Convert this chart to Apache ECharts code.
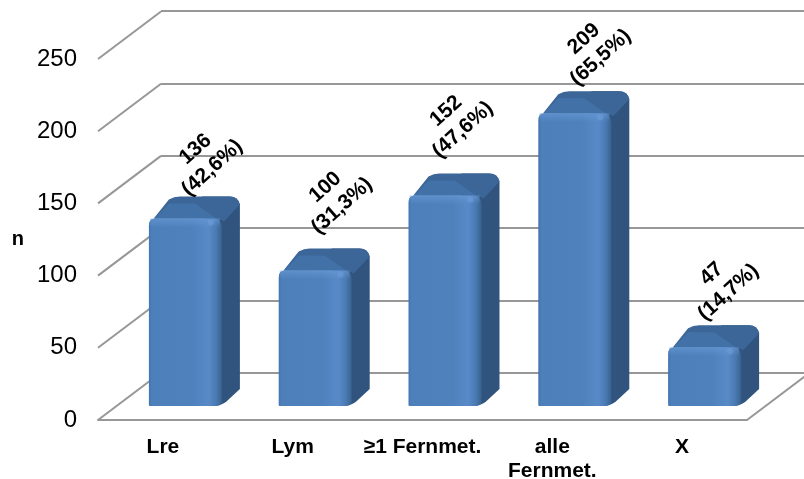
<!DOCTYPE html>
<html>
<head>
<meta charset="utf-8">
<style>html,body{margin:0;padding:0;background:#fff}#chart{width:804px;height:479px}</style>
<script src="https://cdn.jsdelivr.net/npm/echarts@6/dist/echarts.min.js"></script>
</head>
<body>
<div id="chart"></div>
<script>
// Patient counts per metastasis category
const categories = ['Lre', 'Lym', '≥1 Fernmet.', 'alle\nFernmet.', 'X'];
const counts = [136, 100, 152, 209, 47];
const shares = ['42,6', '31,3', '47,6', '65,5', '14,7'];
const yTicks = [0, 50, 100, 150, 200, 250];

// Oblique projection of the chart box
const DEPTH_X = 63, DEPTH_Y = 47.5;
const LINE = '#979797';
const FONT = '"Liberation Sans", Arial, sans-serif';
// Hand placement of the slanted value labels, relative to each bar's value point
const labelShift = [[41, -65], [41, -79], [32, -80], [40, -70], [38, -69]];

function hGrad(stops) {
  return { type: 'linear', x: 0, y: 0, x2: 1, y2: 0,
    colorStops: stops.map(s => ({ offset: s[0], color: s[1] })) };
}

function renderBar(params, api) {
  const i = api.value(0), v = api.value(1);
  const top = api.coord([i, v]);
  const zero = api.coord([i, 0]);
  const x0 = top[0] - 14, x1 = x0 + 73;
  const yb = zero[1] - 14, yt = top[1] - 5;
  const silhouette = `M${x1 - 20},${yt - 22} L${x1 + 8},${yt - 22} Q${x1 + 16},${yt - 22} ${x1 + 18},${yt - 14} ` +
    `L${x1 + 18},${yb - 17} L${x1 + 4},${yb - 4} Q${x1 - 2},${yb} ${x1 - 8},${yb} L${x1 - 20},${yb} Z`;
  const lid = `M${x0},${yt + 6} L${x0 + 20},${yt - 19} Q${x0 + 25},${yt - 22} ${x0 + 31},${yt - 22} ` +
    `L${x1 + 8},${yt - 22} Q${x1 + 16},${yt - 22} ${x1 + 18},${yt - 14} L${x1 + 2},${yt + 3} ` +
    `Q${x1 - 2},${yt} ${x1 - 8},${yt} L${x0 + 6},${yt} Q${x0 + 1},${yt} ${x0},${yt + 6} Z`;
  const lidFront = `M${x0},${yt + 6} L${x0 + 20},${yt - 15} L${x0 + 46},${yt - 15} L${x1 - 4},${yt + 1} L${x0 + 6},${yt + 1} Z`;
  const front = `M${x0},${yt + 7} Q${x0},${yt} ${x0 + 7},${yt} L${x1 - 9},${yt} Q${x1},${yt} ${x1},${yt + 9} ` +
    `L${x1},${yb - 4} Q${x1},${yb} ${x1 - 8},${yb} L${x0 + 1},${yb} Q${x0},${yb} ${x0},${yb - 1} Z`;
  const shift = labelShift[i];
  return {
    type: 'group',
    children: [
      { type: 'path', shape: { pathData: silhouette }, style: { fill: '#31547f' } },
      { type: 'path', shape: { pathData: lid }, style: { fill: '#3b6697' } },
      { type: 'path', shape: { pathData: lidFront }, style: { fill: '#4575ae', opacity: 0.75 } },
      { type: 'path', shape: { pathData: front }, style: {
        fill: hGrad([[0, '#4274ae'], [0.04, '#4d7fbb'], [0.6, '#4f81bd'], [0.82, '#588ac8'], [0.92, '#4a7ab3'], [1, '#38628f']]) } },
      { type: 'rect', shape: { x: x0 + 1, y: yt, width: 70, height: 9 }, style: {
        fill: { type: 'linear', x: 0, y: 0, x2: 0, y2: 1, colorStops: [
          { offset: 0, color: 'rgba(110,160,220,0.5)' }, { offset: 1, color: 'rgba(110,160,220,0)' }] } } },
      { type: 'circle', shape: { cx: x1 - 11, cy: yt + 4, r: 3 }, style: { fill: '#6f9fd9', opacity: 0.55 } },
      { type: 'text', z2: 20, x: top[0] + shift[0], y: top[1] + shift[1], rotation: Math.PI * 42 / 180,
        style: { text: v + '\n(' + shares[i] + '%)', font: 'bold 21px ' + FONT, fill: '#000',
          align: 'center', verticalAlign: 'middle', lineHeight: 25 } }
    ]
  };
}

// Diagonal side-wall lines, one per tick, plus the right edge of the floor
function renderDepthLine(params, api) {
  const sys = params.coordSys;
  const isEdge = api.value(1) === 1;
  const x = isEdge ? sys.x + sys.width : sys.x;
  const y = api.coord([0, api.value(0)])[1];
  return { type: 'line', shape: { x1: x, y1: y, x2: x + DEPTH_X, y2: y - DEPTH_Y },
    style: { stroke: LINE, lineWidth: 2 } };
}

const chart = echarts.init(document.getElementById('chart'), null, { renderer: 'canvas' });
chart.setOption({
  animation: false,
  backgroundColor: '#fff',
  grid: [
    { left: 98, width: 649, top: 59, height: 361, outerBoundsMode: 'none' },
    { left: 161, width: 649, top: 11, height: 362, outerBoundsMode: 'none' }
  ],
  xAxis: [
    { type: 'category', gridIndex: 0, data: categories, axisTick: { show: false },
      axisLine: { lineStyle: { color: LINE, width: 2 } },
      axisLabel: { fontFamily: FONT, fontWeight: 'bold', fontSize: 21, color: '#000', margin: 15, lineHeight: 24, interval: 0 } },
    { type: 'value', gridIndex: 1, show: false, min: 0, max: 1, splitLine: { show: false } }
  ],
  yAxis: [
    { type: 'value', gridIndex: 0, min: 0, max: 250, interval: 50, splitLine: { show: false },
      axisLine: { show: false }, axisTick: { show: false },
      axisLabel: { fontFamily: FONT, fontSize: 24, color: '#000', margin: 21 },
      name: 'n', nameLocation: 'middle', nameRotate: 0, nameGap: 74,
      nameTextStyle: { fontFamily: FONT, fontWeight: 'bold', fontSize: 20, color: '#000', padding: [4, 0, 0, 0] } },
    { type: 'value', gridIndex: 1, min: 0, max: 250, interval: 50,
      axisLine: { show: false }, axisTick: { show: false }, axisLabel: { show: false },
      splitLine: { show: true, lineStyle: { color: LINE, width: 2 } } }
  ],
  series: [
    { type: 'custom', xAxisIndex: 0, yAxisIndex: 0, z: 1, renderItem: renderDepthLine, silent: true,
      data: yTicks.map(t => [t, 0]).concat([[0, 1]]), encode: { y: 0 } },
    { type: 'custom', xAxisIndex: 0, yAxisIndex: 0, z: 5, renderItem: renderBar,
      data: counts.map((c, i) => [i, c]), encode: { x: 0, y: 1 } }
  ]
});
</script>
</body>
</html>
